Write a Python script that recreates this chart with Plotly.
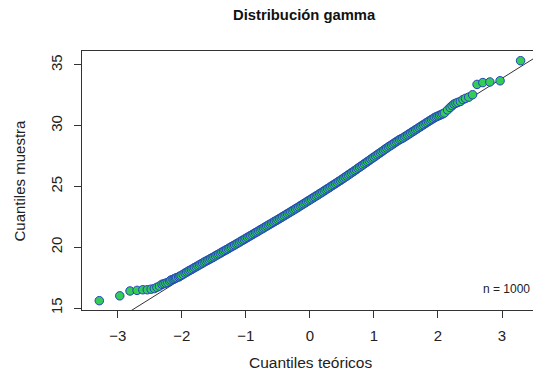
import plotly.graph_objects as go

# Normal QQ plot of a gamma sample (n = 1000): theoretical vs sample quantiles
theoretical = [
    -3.29, -2.97, -2.81, -2.70, -2.61, -2.54, -2.48, -2.43, -2.39, -2.35,
    -2.31, -2.28, -2.25, -2.22, -2.19, -2.17, -2.14, -2.12, -2.10, -2.08,
    -2.05, -2.03, -2.01,
    -1.98, -1.95, -1.925, -1.90, -1.875, -1.85, -1.825, -1.80, -1.775, -1.75,
    -1.725, -1.70, -1.675, -1.65, -1.625, -1.60, -1.575, -1.55, -1.525, -1.50,
    -1.475, -1.45, -1.425, -1.40, -1.375, -1.35, -1.325, -1.30, -1.275, -1.25,
    -1.225, -1.20, -1.175, -1.15, -1.125, -1.10, -1.075, -1.05, -1.025, -1.00,
    -0.975, -0.95, -0.925, -0.90, -0.875, -0.85, -0.825, -0.80, -0.775, -0.75,
    -0.725, -0.70, -0.675, -0.65, -0.625, -0.60, -0.575, -0.55, -0.525, -0.50,
    -0.475, -0.45, -0.425, -0.40, -0.375, -0.35, -0.325, -0.30, -0.275, -0.25,
    -0.225, -0.20, -0.175, -0.15, -0.125, -0.10, -0.075, -0.05, -0.025, 0.00,
    0.025, 0.05, 0.075, 0.10, 0.125, 0.15, 0.175, 0.20, 0.225, 0.25,
    0.275, 0.30, 0.325, 0.35, 0.375, 0.40, 0.425, 0.45, 0.475, 0.50,
    0.525, 0.55, 0.575, 0.60, 0.625, 0.65, 0.675, 0.70, 0.725, 0.75,
    0.775, 0.80, 0.825, 0.85, 0.875, 0.90, 0.925, 0.95, 0.975, 1.00,
    1.025, 1.05, 1.075, 1.10, 1.125, 1.15, 1.175, 1.20, 1.225, 1.25,
    1.275, 1.30, 1.325, 1.35, 1.375, 1.40, 1.425, 1.45, 1.475, 1.50,
    1.525, 1.55, 1.575, 1.60, 1.625, 1.65, 1.675, 1.70, 1.725, 1.75,
    1.775, 1.80, 1.825, 1.85, 1.875, 1.90, 1.925, 1.95, 1.975, 2.00,
    2.025, 2.05, 2.075, 2.10, 2.15, 2.19, 2.22, 2.25, 2.28, 2.31,
    2.35, 2.39, 2.43, 2.48, 2.54, 2.61, 2.70, 2.81, 2.97, 3.29,
]
sample = [
    15.60, 16.00, 16.40, 16.45, 16.50, 16.50, 16.55, 16.60, 16.70, 16.80,
    16.95, 17.00, 17.05, 17.10, 17.20, 17.30, 17.35, 17.40, 17.45, 17.50,
    17.55, 17.62, 17.68,
    17.77, 17.87, 17.95, 18.03, 18.10, 18.17, 18.25, 18.33, 18.40, 18.48,
    18.55, 18.63, 18.70, 18.78, 18.85, 18.92, 18.99, 19.07, 19.14, 19.21,
    19.29, 19.37, 19.44, 19.51, 19.59, 19.67, 19.74, 19.81, 19.89, 19.97,
    20.04, 20.12, 20.19, 20.27, 20.34, 20.42, 20.50, 20.58, 20.65, 20.73,
    20.81, 20.89, 20.96, 21.04, 21.12, 21.20, 21.27, 21.35, 21.43, 21.51,
    21.58, 21.66, 21.74, 21.82, 21.89, 21.97, 22.05, 22.13, 22.20, 22.28,
    22.36, 22.44, 22.52, 22.60, 22.68, 22.76, 22.84, 22.92, 23.00, 23.08,
    23.16, 23.24, 23.32, 23.41, 23.49, 23.57, 23.65, 23.74, 23.82, 23.90,
    23.98, 24.07, 24.15, 24.23, 24.31, 24.40, 24.48, 24.56, 24.65, 24.74,
    24.82, 24.90, 24.99, 25.08, 25.16, 25.24, 25.33, 25.42, 25.50, 25.59,
    25.68, 25.77, 25.86, 25.95, 26.04, 26.13, 26.22, 26.31, 26.40, 26.50,
    26.59, 26.68, 26.77, 26.87, 26.96, 27.05, 27.14, 27.24, 27.33, 27.42,
    27.51, 27.61, 27.70, 27.79, 27.88, 27.98, 28.07, 28.16, 28.25, 28.34,
    28.42, 28.51, 28.60, 28.69, 28.77, 28.86, 28.92, 28.99, 29.07, 29.16,
    29.24, 29.33, 29.41, 29.50, 29.58, 29.67, 29.75, 29.84, 29.92, 30.01,
    30.09, 30.18, 30.26, 30.35, 30.43, 30.51, 30.59, 30.68, 30.74, 30.80,
    30.86, 30.92, 30.98, 31.05, 31.30, 31.50, 31.65, 31.78, 31.85, 31.92,
    32.00, 32.15, 32.25, 32.35, 32.55, 33.40, 33.55, 33.60, 33.70, 35.35,
]

# Reference line through the quartiles (intercept, slope)
line_intercept = 24.0
line_slope = 3.30
line_x = [-3.6, 3.6]
line_y = [line_intercept + line_slope * v for v in line_x]

x_ticks = [-3, -2, -1, 0, 1, 2, 3]
y_ticks = [15, 20, 25, 30, 35]

FONT = "Liberation Sans, Arial, sans-serif"

fig = go.Figure()

fig.add_trace(go.Scatter(
    x=line_x, y=line_y, mode="lines",
    line=dict(color="#333333", width=1),
    hoverinfo="skip", showlegend=False,
))

fig.add_trace(go.Scatter(
    x=theoretical, y=sample, mode="markers",
    marker=dict(size=8.5, color="#33cc55",
                line=dict(color="#2440c4", width=1.0)),
    showlegend=False,
))

fig.update_layout(
    width=533, height=383,
    margin=dict(l=82, r=0, t=51, b=73),
    paper_bgcolor="white", plot_bgcolor="white",
    font=dict(family=FONT, size=15, color="#222222"),
    xaxis=dict(
        range=[-3.56, 3.484], tickvals=x_ticks,
        ticks="outside", ticklen=7, tickcolor="#333333",
        showgrid=False, zeroline=False,
        showline=True, mirror=True, linecolor="#333333", linewidth=1,
        tickfont=dict(size=15), ticklabelstandoff=5,
    ),
    yaxis=dict(
        range=[14.835, 36.15], tickvals=y_ticks, tickangle=-90,
        ticks="outside", ticklen=7, tickcolor="#333333",
        showgrid=False, zeroline=False,
        showline=True, mirror=False, linecolor="#333333", linewidth=1,
        tickfont=dict(size=15), ticklabelstandoff=6,
    ),
    annotations=[
        dict(text="<b>Distribución gamma</b>", xref="paper", yref="paper",
             x=(304 - 82) / 451, y=1 + (51 - 15) / 259, xanchor="center",
             yanchor="middle", showarrow=False,
             font=dict(family=FONT, size=14.8, color="#111111")),
        dict(text="Cuantiles teóricos", xref="paper", yref="paper",
             x=(310 - 82) / 451, y=-(362 - 310) / 259, xanchor="center",
             yanchor="middle", showarrow=False,
             font=dict(family=FONT, size=15.5, color="#222222")),
        dict(text="Cuantiles muestra", xref="paper", yref="paper",
             x=-(82 - 19) / 451, y=0.5, xanchor="center", yanchor="middle",
             textangle=-90, showarrow=False,
             font=dict(family=FONT, size=15, color="#222222")),
        dict(text="n = 1000", xref="paper", yref="paper",
             x=(532 - 82) / 451, y=(310 - 289) / 259, xanchor="right",
             yanchor="middle", showarrow=False,
             font=dict(family=FONT, size=12, color="#222222")),
    ],
)

fig.write_html("out.html")
